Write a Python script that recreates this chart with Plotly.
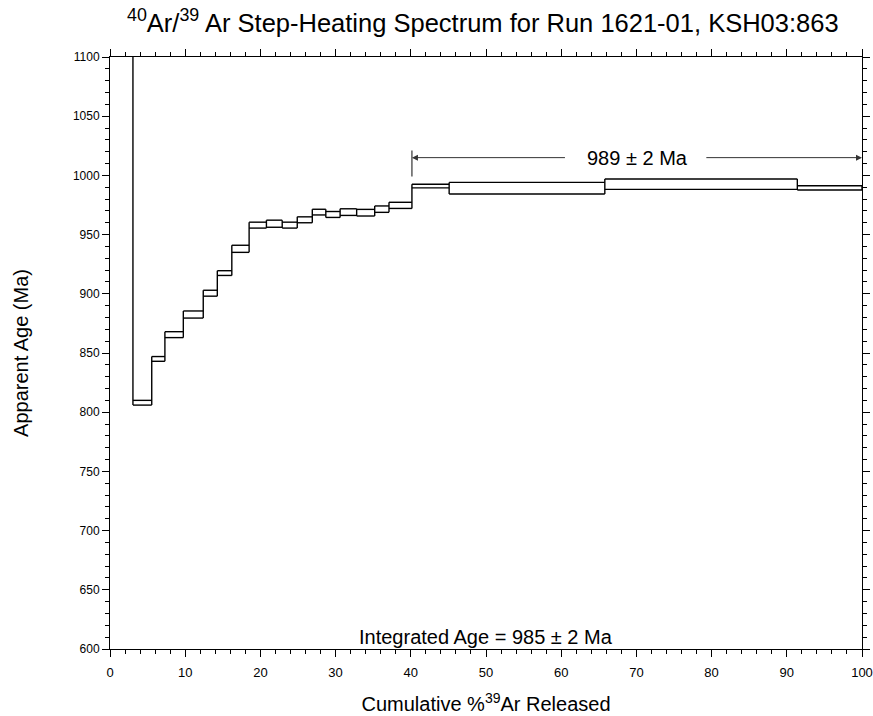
import plotly.graph_objects as go

# Cumulative %39Ar boundaries of each heating step
cum_start = [0.0, 3.05, 5.55, 7.3, 9.75, 12.4, 14.27, 16.2, 18.5, 20.8, 22.9, 24.9,
             26.9, 28.7, 30.6, 32.8, 35.2, 37.1, 40.15, 45.1, 65.8, 91.4]
cum_end = [3.05, 5.55, 7.3, 9.75, 12.4, 14.27, 16.2, 18.5, 20.8, 22.9, 24.9, 26.9,
           28.7, 30.6, 32.8, 35.2, 37.1, 40.15, 45.1, 65.8, 91.4, 100.0]
# Apparent ages (Ma) and 1-sigma errors
age = [1300.0, 808.0, 845.0, 865.5, 882.5, 900.5, 917.5, 938.0, 958.0, 959.2, 958.0, 962.5,
       969.0, 967.0, 969.0, 968.5, 971.5, 974.7, 991.0, 989.2, 992.6, 989.5]
err = [10.0, 2.0, 2.0, 2.5, 3.0, 2.5, 2.0, 3.0, 2.5, 3.0, 2.5, 2.5,
       2.4, 2.5, 2.8, 2.8, 2.7, 2.6, 1.5, 4.9, 4.4, 1.8]

plateau_start = 40.15
plateau_end = 100.0
plateau_age = 989
plateau_err = 2
integrated_age = 985
integrated_err = 2

lo = [a - e for a, e in zip(age, err)]
hi = [a + e for a, e in zip(age, err)]

xs, ys = [], []
# horizontal top and bottom edges of each step box
for x0, x1, l, h in zip(cum_start, cum_end, lo, hi):
    xs += [x0, x1, None, x0, x1, None]
    ys += [l, l, None, h, h, None]
# vertical edges at each boundary spanning both adjacent boxes
n = len(age)
for i in range(n):
    if i == 0:
        xs += [cum_start[0], cum_start[0], None]
        ys += [lo[0], hi[0], None]
    else:
        xs += [cum_start[i], cum_start[i], None]
        ys += [min(lo[i], lo[i - 1]), max(hi[i], hi[i - 1]), None]
xs += [cum_end[-1], cum_end[-1], None]
ys += [lo[-1], hi[-1], None]

fig = go.Figure()
fig.add_trace(go.Scatter(x=xs, y=ys, mode="lines",
                         line=dict(color="black", width=1.4),
                         hoverinfo="skip", showlegend=False))

# plateau bracket
arrow_y = plateau_age + 26
fig.add_trace(go.Scatter(x=[plateau_start, plateau_start], y=[plateau_age + 10, plateau_age + 32],
                         mode="lines", line=dict(color="#333", width=1.2),
                         hoverinfo="skip", showlegend=False))
label_x = 70.2
fig.add_annotation(x=plateau_start, y=arrow_y, ax=label_x - 9.5, ay=arrow_y,
                   xref="x", yref="y", axref="x", ayref="y", text="",
                   showarrow=True, arrowhead=2, arrowsize=1.2, arrowwidth=1, arrowcolor="#333")
fig.add_annotation(x=plateau_end, y=arrow_y, ax=label_x + 8.9, ay=arrow_y,
                   xref="x", yref="y", axref="x", ayref="y", text="",
                   showarrow=True, arrowhead=2, arrowsize=1.2, arrowwidth=1, arrowcolor="#333")
fig.add_annotation(x=label_x, y=arrow_y, xref="x", yref="y",
                   text=f"{plateau_age} ± {plateau_err} Ma", showarrow=False,
                   font=dict(size=20, color="black", family="Liberation Sans"))
fig.add_annotation(x=50, y=600, xref="x", yref="y", yanchor="bottom", yshift=-1,
                   text=f"Integrated Age = {integrated_age} ± {integrated_err} Ma",
                   showarrow=False,
                   font=dict(size=20, color="black", family="Liberation Sans"))

fig.update_layout(
    width=873, height=716,
    margin=dict(l=110, r=11, t=57, b=67, autoexpand=False),
    plot_bgcolor="white", paper_bgcolor="white",
    title=dict(text="<sup>40</sup>Ar/<sup>39</sup> Ar Step-Heating Spectrum for Run 1621-01, KSH03:863",
               x=0.553, xanchor="center", y=0.968, yanchor="middle",
               font=dict(size=25.5, color="black", family="Liberation Sans")),
    font=dict(family="Liberation Sans", color="black"),
)
fig.update_xaxes(range=[0, 100], dtick=10, tick0=0, showgrid=False, zeroline=False,
                 showline=True, linecolor="black", linewidth=1, mirror="allticks",
                 ticks="outside", ticklen=7, tickcolor="black", automargin=False,
                 minor=dict(dtick=2, ticks="outside", ticklen=4, tickcolor="black"),
                 tickfont=dict(size=13, family="Liberation Sans"),
                 ticklabelstandoff=4,
                 title=dict(text="Cumulative %<sup>39</sup>Ar Released", standoff=18,
                            font=dict(size=20, family="Liberation Sans")))
fig.update_yaxes(range=[600, 1100], dtick=50, tick0=600, showgrid=False, zeroline=False,
                 showline=True, linecolor="black", linewidth=1, mirror="allticks",
                 ticks="outside", ticklen=7, tickcolor="black", automargin=False,
                 minor=dict(dtick=10, ticks="outside", ticklen=4, tickcolor="black"),
                 tickfont=dict(size=12, family="Liberation Sans"),
                 title=dict(text="Apparent Age (Ma)", standoff=38,
                            font=dict(size=20, family="Liberation Sans")))

fig.write_html("out.html")
